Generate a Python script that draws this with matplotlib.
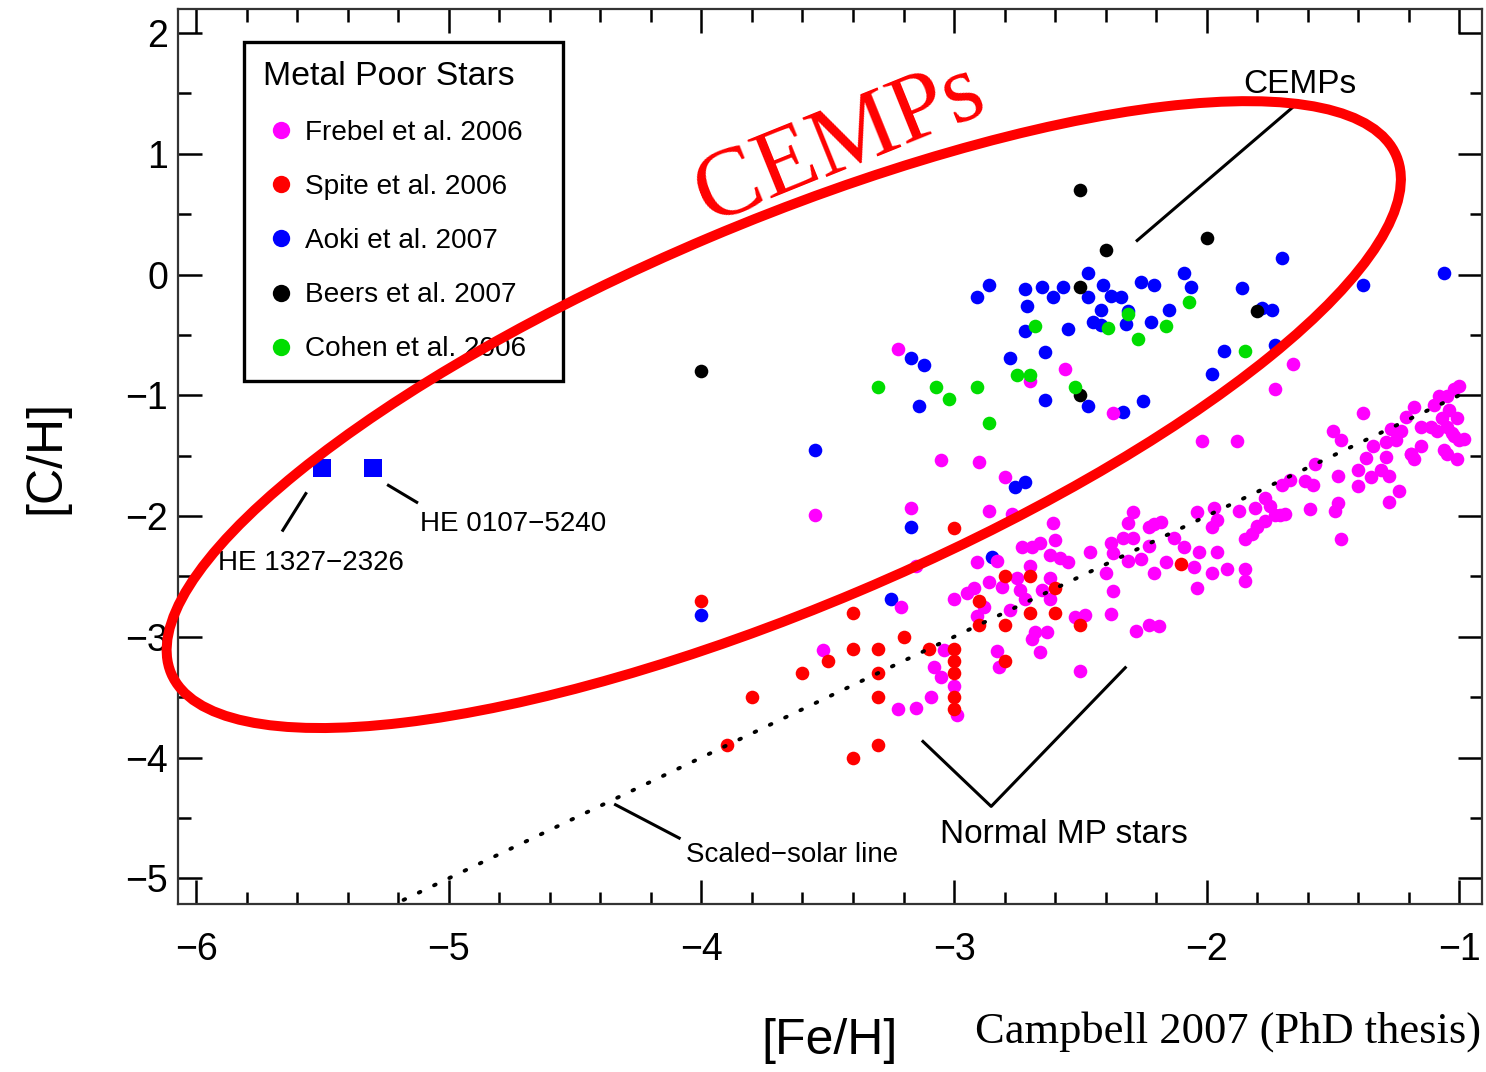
import numpy as np
import matplotlib
matplotlib.use("Agg")
import matplotlib.pyplot as plt
from matplotlib.lines import Line2D
from matplotlib.patches import Ellipse
from matplotlib.transforms import IdentityTransform

plt.rcParams['font.family'] = ['Liberation Sans', 'DejaVu Sans']

# Frebel et al. 2006
frebel_feh = [-3.22, -2.70, -2.56, -2.37, -1.66, -1.73, -2.02, -1.88, -3.05, -2.90, -2.80, -3.55,
              -3.17, -2.86, -2.77, -3.15, -2.61, -2.60, -2.73, -2.69, -2.66, -2.62, -2.58, -2.55,
              -2.46, -2.91, -2.83, -3.21, -2.75, -2.74, -2.70, -2.62, -2.65, -2.62, -2.86, -2.81,
              -2.92, -2.95, -3.00, -2.88, -2.72, -2.78, -2.91, -2.52, -2.48, -2.68, -2.69, -2.63,
              -2.66, -2.83, -2.82, -2.50, -2.37, -2.38, -2.40, -2.28, -2.23, -2.19, -2.21, -2.16,
              -2.26, -2.31, -2.37, -2.38, -2.33, -2.29, -2.23, -2.23, -2.21, -2.18, -2.31, -2.29,
              -2.09, -2.13, -2.03, -2.05, -1.96, -1.98, -1.92, -1.85, -1.85, -2.04, -2.04, -1.98,
              -1.96, -1.87, -1.81, -1.85, -1.82, -1.80, -1.77, -1.77, -1.75, -1.73, -3.00, -2.99,
              -3.04, -3.08, -3.05, -3.09, -3.22, -3.15, -3.52, -1.38, -1.50, -1.47, -1.27, -1.21,
              -1.18, -1.15, -1.10, -1.08, -1.05, -1.02, -1.00, -1.04, -1.01, -1.05, -1.09, -1.02,
              -0.98, -1.06, -1.05, -1.01, -1.15, -1.19, -1.18, -1.23, -1.29, -1.34, -1.37, -1.35,
              -1.40, -1.40, -1.31, -1.28, -1.24, -1.28, -1.48, -1.48, -1.49, -1.47, -1.57, -1.61,
              -1.58, -1.59, -1.70, -1.67, -1.71, -1.69, -1.80, -1.97, -1.11, -1.07, -1.03, -1.00,
              -1.25, -1.29, -1.19]
frebel_ch = [-0.62, -0.88, -0.78, -1.15, -0.74, -0.95, -1.38, -1.38, -1.54, -1.55, -1.68, -1.99,
             -1.93, -1.96, -1.98, -2.41, -2.06, -2.20, -2.26, -2.26, -2.22, -2.32, -2.35, -2.38,
             -2.30, -2.38, -2.37, -2.75, -2.51, -2.61, -2.41, -2.51, -2.61, -2.69, -2.55, -2.59,
             -2.60, -2.64, -2.69, -2.75, -2.69, -2.78, -2.83, -2.84, -2.82, -2.96, -3.02, -2.96,
             -3.13, -3.12, -3.25, -3.28, -2.62, -2.81, -2.47, -2.95, -2.90, -2.91, -2.47, -2.38,
             -2.36, -2.37, -2.31, -2.22, -2.18, -2.18, -2.25, -2.09, -2.07, -2.05, -2.06, -1.97,
             -2.26, -2.18, -2.30, -2.42, -2.30, -2.47, -2.44, -2.44, -2.54, -2.60, -1.97, -2.09,
             -2.03, -1.96, -1.93, -2.19, -2.15, -2.09, -2.04, -1.85, -1.92, -1.99, -3.41, -3.65,
             -3.11, -3.25, -3.33, -3.50, -3.60, -3.59, -3.11, -1.15, -1.30, -1.37, -1.28, -1.18,
             -1.10, -1.26, -1.08, -1.01, -1.01, -0.95, -0.92, -1.12, -1.19, -1.26, -1.30, -1.34,
             -1.36, -1.45, -1.49, -1.53, -1.42, -1.49, -1.53, -1.30, -1.51, -1.42, -1.52, -1.68,
             -1.62, -1.75, -1.62, -1.67, -1.79, -1.88, -1.67, -1.89, -1.96, -2.19, -1.57, -1.71,
             -1.74, -1.94, -1.74, -1.70, -1.99, -1.98, -2.08, -1.93, -1.26, -1.19, -1.31, -1.37,
             -1.37, -1.39, -1.49]

# Spite et al. 2006
spite_feh = [-3.00, -2.80, -2.70, -2.60, -2.90, -2.70, -2.60, -2.80, -2.90, -2.50, -2.80, -3.00,
             -3.00, -3.00, -3.00, -3.00, -3.10, -3.20, -4.00, -3.40, -3.50, -3.40, -3.30, -3.60,
             -3.30, -3.30, -3.80, -3.90, -3.30, -3.40, -2.10]
spite_ch = [-2.10, -2.50, -2.50, -2.60, -2.70, -2.80, -2.80, -2.90, -2.90, -2.90, -3.20, -3.10,
            -3.20, -3.30, -3.50, -3.60, -3.10, -3.00, -2.70, -2.80, -3.20, -3.10, -3.10, -3.30,
            -3.30, -3.50, -3.50, -3.90, -3.90, -4.00, -2.40]

# Aoki et al. 2007
aoki_feh = [-2.86, -2.91, -2.72, -2.65, -2.57, -2.61, -2.71, -2.47, -2.41, -2.47, -2.38, -2.34,
            -2.42, -2.26, -2.21, -2.09, -2.06, -2.31, -2.15, -1.70, -1.86, -1.78, -1.74, -2.72,
            -2.55, -2.45, -2.42, -2.32, -2.22, -2.78, -2.64, -1.93, -1.73, -1.98, -3.17, -3.12,
            -3.14, -2.64, -2.47, -2.33, -2.25, -1.06, -1.38, -3.55, -2.76, -2.72, -3.17, -2.85,
            -3.25, -4.00]
aoki_ch = [-0.09, -0.19, -0.12, -0.10, -0.10, -0.19, -0.26, 0.01, -0.09, -0.19, -0.18, -0.19,
           -0.29, -0.06, -0.09, 0.01, -0.10, -0.30, -0.29, 0.14, -0.11, -0.28, -0.29, -0.47,
           -0.45, -0.39, -0.42, -0.41, -0.39, -0.69, -0.64, -0.63, -0.58, -0.82, -0.69, -0.75,
           -1.09, -1.04, -1.09, -1.14, -1.05, 0.01, -0.09, -1.45, -1.76, -1.72, -2.09, -2.34,
           -2.69, -2.82]

# Aoki: HE 1327-2326 and HE 0107-5240
he_feh = [-5.50, -5.30]
he_ch = [-1.60, -1.60]

# Beers et al. 2007
beers_feh = [-2.5, -2.4, -2.0, -2.5, -1.8, -2.5, -4.0]
beers_ch = [0.70, 0.20, 0.30, -0.10, -0.30, -1.00, -0.80]

# Cohen et al. 2006
cohen_feh = [-2.68, -2.39, -2.31, -2.27, -2.16, -2.07, -1.85, -3.30, -3.07, -3.02, -2.91, -2.86,
             -2.75, -2.70, -2.52]
cohen_ch = [-0.43, -0.44, -0.33, -0.53, -0.43, -0.23, -0.63, -0.93, -0.93, -1.03, -0.93, -1.23,
            -0.83, -0.83, -0.93]

# scaled-solar line ends
solar_feh = [-5.30, -0.97]
solar_ch = [-5.30, -0.97]

legend_labels = ['Frebel et al. 2006', 'Spite et al. 2006', 'Aoki et al. 2007',
                 'Beers et al. 2007', 'Cohen et al. 2006']
legend_colors = ['#ff00ff', '#ff0000', '#0000ff', '#000000', '#00dd00']

fig = plt.figure(figsize=(14.86, 10.72), dpi=100)
ax = fig.add_axes([0.11978, 0.15672, 0.87752, 0.83489])

ms = 9.8
ax.plot(aoki_feh, aoki_ch, 'o', color='#0000ff', ms=ms, mew=0, zorder=3)
ax.plot(he_feh, he_ch, 's', color='#0000ff', ms=12.3, mew=0, zorder=3)
ax.plot(frebel_feh, frebel_ch, 'o', color='#ff00ff', ms=ms, mew=0, zorder=3)
ax.plot(spite_feh, spite_ch, 'o', color='#ff0000', ms=ms, mew=0, zorder=3)
ax.plot(beers_feh, beers_ch, 'o', color='#000000', ms=ms, mew=0, zorder=3)
ax.plot(cohen_feh, cohen_ch, 'o', color='#00dd00', ms=ms, mew=0, zorder=3)

ax.plot(solar_feh, solar_ch, color='black', lw=2.8, dashes=(0.45, 3.9),
        dash_capstyle='round', zorder=4)

ax.set_xlim(-6.072, -0.91)
ax.set_ylim(-5.213, 2.199)
ax.set_xticks(np.arange(-6, -0.5, 1))
ax.set_xticks(np.arange(-6, -0.9, 0.2), minor=True)
ax.set_yticks(np.arange(-5, 2.5, 1))
ax.set_yticks(np.arange(-5, 2.1, 0.5), minor=True)
ax.tick_params(which='both', direction='in', top=True, right=True, width=1.8, color='black')
ax.tick_params(which='major', length=17, labelsize=27)
ax.tick_params(which='minor', length=9)
ax.tick_params(axis='x', which='major', pad=20)
ax.tick_params(axis='y', which='major', pad=7)
for s in ax.spines.values():
    s.set_linewidth(1.6)
    s.set_color('#333333')

ax.set_xlabel('[Fe/H]', fontsize=36)
ax.xaxis.set_label_coords(0.5, -0.127)
ax.set_ylabel('[C/H]', fontsize=36)
ax.yaxis.set_label_coords(-0.083, 0.5)

# annotations
lw_ann = 2.2
ax.plot([-1.643, -2.275], [1.414, 0.282], color='black', lw=lw_ann, zorder=4)
ax.text(-1.856, 1.505, 'CEMPs', fontsize=24, ha='left', va='baseline')
ax.plot([-3.123, -2.853, -2.322], [-3.867, -4.405, -3.256], color='black', lw=lw_ann, zorder=4)
ax.text(-3.057, -4.706, 'Normal MP stars', fontsize=24, ha='left', va='baseline')
ax.plot([-4.340, -4.088], [-4.391, -4.667], color='black', lw=lw_ann, zorder=4)
ax.text(-4.062, -4.863, 'Scaled\u2212solar line', fontsize=20, ha='left', va='baseline')
ax.plot([-5.566, -5.657], [-1.814, -2.118], color='black', lw=lw_ann, zorder=4)
ax.text(-5.913, -2.444, 'HE 1327\u22122326', fontsize=20, ha='left', va='baseline')
ax.plot([-5.239, -5.127], [-1.746, -1.886], color='black', lw=lw_ann, zorder=4)
ax.text(-5.114, -2.127, 'HE 0107\u22125240', fontsize=20, ha='left', va='baseline')

handles = [Line2D([], [], ls='none', marker='o', ms=12.5, mfc=c, mec='none') for c in legend_colors]
leg = ax.legend(handles, legend_labels, title='Metal Poor Stars', loc='upper left',
                bbox_to_anchor=(0.0506, 0.3, 0.2446, 0.6631), mode='expand',
                borderaxespad=0, fancybox=False,
                edgecolor='black', framealpha=1, fontsize=20.2, title_fontsize=24.4,
                alignment='left', handlelength=1.3, handletextpad=0.2,
                labelspacing=1.0, borderpad=0.68)
leg.get_frame().set_linewidth(2.4)
leg.set_zorder(5)

# red highlight
ax.text(-3.449, 1.077, 'CEMPs', fontsize=70, color='#ff0000', family='Liberation Serif',
        rotation=22, rotation_mode='anchor', ha='center', va='center', zorder=6)
cx, cy = ax.transData.transform((-3.674, -1.160))
ell = Ellipse((cx, cy), 2 * 665, 2 * 192, angle=22.9, transform=IdentityTransform(),
              fill=False, edgecolor='#ff0000', lw=7.2, zorder=10)
fig.add_artist(ell)

fig.text(975 / 1486, 1 - 1043 / 1072, 'Campbell 2007 (PhD thesis)', fontsize=32,
         family='Liberation Serif', ha='left', va='baseline')

fig.savefig('out.png', dpi=100)
